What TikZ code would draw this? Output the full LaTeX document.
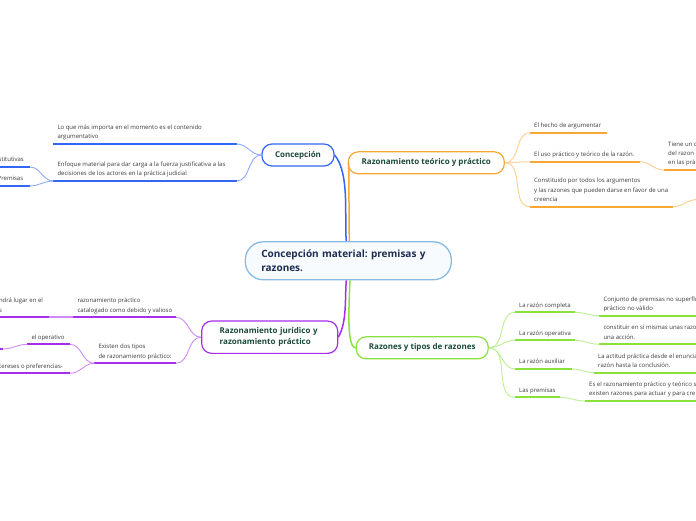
\documentclass[tikz,border=0pt]{standalone}
\usepackage{fontspec}
\setmainfont{Open Sans}
\usetikzlibrary{positioning}
\frenchspacing

\definecolor{mblue}{HTML}{3466F5}
\definecolor{morange}{HTML}{F8A832}
\definecolor{mpurple}{HTML}{A62EEB}
\definecolor{mgreen}{HTML}{89E23C}
\definecolor{rootline}{HTML}{88BBE2}
\definecolor{rootfill}{HTML}{F8FBFE}
\definecolor{rootink}{HTML}{1C2B4F}
\definecolor{topicink}{HTML}{1A4A3A}
\definecolor{leafink}{HTML}{3C3C3C}

\begin{document}
\begin{tikzpicture}[x=1pt, y=-1pt,
    every node/.style={font=\fontsize{6}{9.3}\selectfont, text=leafink},
    root/.style={draw=rootline, fill=rootfill, line width=1.3pt, rounded corners=18pt,
        minimum width=206pt, minimum height=38pt, text width=174pt, inner xsep=16pt,
        align=left, text=rootink, font=\fontsize{10}{13.7}\selectfont\bfseries},
    topic/.style={draw=#1, fill=white, line width=1.2pt, rounded corners=10pt,
        minimum height=22pt, inner xsep=0pt, align=center, text=topicink,
        font=\fontsize{8}{11}\selectfont\bfseries},
    leaf/.style={fill=#1, minimum height=2.2pt, inner sep=0pt, outer sep=0pt, anchor=west},
    txt/.style={anchor=south west, align=left, inner xsep=4pt, inner ysep=2.4pt, text depth=1.5pt},
    main/.style={draw=#1, line width=1.5pt},
    link/.style={draw=#1!55, line width=0.9pt},
]
    \useasboundingbox (0,0) rectangle (696,520);
    \clip (0,0) rectangle (696,520);
    \fill[white] (0,0) rectangle (696,520);

    % central idea
    \node[root] (root) at (348.3,260.8) {Concepción material: premisas y\\razones.};

    % main topics
    \node[topic=mblue, minimum width=72pt] (conc) at (298,155) {Concepción};
    \node[topic=morange, minimum width=156pt] (teo) at (426.3,162.8) {Razonamiento teórico y práctico};
    \node[topic=mpurple, minimum height=32.3pt, text width=100pt, inner xsep=18pt, align=left] (jur) at (269.7,337.2) {Razonamiento jurídico y\\razonamiento práctico};
    \node[topic=mgreen, minimum width=132pt] (raz) at (422.2,347.8) {Razones y tipos de razones};

    % Concepcion leaves
    \node[leaf=mblue, minimum width=183.4pt, label={[txt]north west:{Lo que más importa en el momento es el contenido\\argumentativo}}] (c1) at (53.3,144) {};
    \node[leaf=mblue, minimum width=183.4pt, label={[txt]north west:{Enfoque material para dar carga a la fuerza justificativa a las\\decisiones de los actores en la práctica judicial}}] (c2) at (53.3,181) {};
    \node[leaf=mblue, minimum width=35.5pt, label={[txt]north west:{stitutivas}}] (c2a) at (-5.5,167) {};
    \node[leaf=mblue, minimum width=36pt, label={[txt]north west:{Premisas}}] (c2b) at (-6.5,186) {};

    % teorico leaves
    \node[leaf=morange, minimum width=76.7pt, label={[txt]north west:{El hecho de argumentar}}] (t1) at (530,132.7) {};
    \node[leaf=morange, minimum width=110pt, label={[txt]north west:{El uso práctico y teórico de la razón.}}] (t2) at (530,161.7) {};
    \node[leaf=morange, minimum width=80pt, label={[txt]north west:{Tiene un c\\del razon\\en las prá}}] (t2a) at (664,170) {};
    \node[leaf=morange, minimum width=143.3pt, label={[txt]north west:{Constituido por todos los argumentos\\y las razones que pueden darse en favor de una\\creencia}}] (t3) at (530,206.7) {};
    \node[leaf=morange, minimum width=40pt] (t3a) at (697,199.5) {};

    % juridico leaves
    \node[leaf=mpurple, minimum width=102.7pt, label={[txt]north west:{razonamiento práctico\\catalogado como debido y valioso}}] (j1) at (73.3,317.3) {};
    \node[leaf=mpurple, minimum width=54.5pt, label={[txt]north west:{ndrá lugar en el\\s}}] (j1a) at (-5.2,317.3) {};
    \node[leaf=mpurple, minimum width=81.7pt, label={[txt]north west:{Existen dos tipos\\de razonamiento práctico:}}] (j2) at (94.3,363.3) {};
    \node[leaf=mpurple, minimum width=42.7pt, label={[txt]north west:{el operativo}}] (j2a) at (27.3,344.3) {};
    \node[leaf=mpurple, minimum width=63pt] (j2c) at (-60,349) {};
    \node[leaf=mpurple, minimum width=75pt, label={[txt]north west:{tereses o preferencias-}}] (j2b) at (-5,373.3) {};

    % razones leaves
    \node[leaf=mgreen, minimum width=60pt, label={[txt]north west:{La razón completa}}] (r1) at (515,312.3) {};
    \node[leaf=mgreen, minimum width=120pt, label={[txt]north west:{Conjunto de premisas no superflu\\práctico no válido}}] (r1a) at (599.3,315.7) {};
    \node[leaf=mgreen, minimum width=60pt, label={[txt]north west:{La razón operativa}}] (r2) at (515,340.3) {};
    \node[leaf=mgreen, minimum width=120pt, label={[txt]north west:{constituir en sí mismas unas razo\\una acción.}}] (r2a) at (599.3,344.3) {};
    \node[leaf=mgreen, minimum width=57pt, label={[txt]north west:{La razón auxiliar}}] (r3) at (515,369) {};
    \node[leaf=mgreen, minimum width=120pt, label={[txt]north west:{La actitud práctica desde el enunciad\\razón hasta la conclusión.}}] (r3a) at (594,372.7) {};
    \node[leaf=mgreen, minimum width=45pt, label={[txt]north west:{Las premisas}}] (r4) at (515,397.3) {};
    \node[leaf=mgreen, minimum width=120pt, label={[txt]north west:{Es el razonamiento práctico y teórico s\\existen razones para actuar y para cre}}] (r4a) at (585,401) {};

    % branches from the centre
    \draw[main=mblue] (conc.east) to[out=-50,in=95,looseness=0.7] ([xshift=-2pt]root.north);
    \draw[main=morange] ([xshift=1pt]root.north) -- ([xshift=1pt]teo.west);
    \draw[main=mpurple] ([xshift=-2pt]root.south) to[out=-95,in=60,looseness=0.8] (jur.east);
    \draw[main=mgreen] ([xshift=1.5pt]root.south) to[out=-88,in=180,looseness=0.4] (raz.west);

    % links to leaves
    \draw[link=mblue] (conc.west) to[out=180,in=0] (c1.east);
    \draw[link=mblue] (conc.west) to[out=180,in=0] (c2.east);
    \draw[link=mblue] (c2.west) to[out=180,in=0] (c2a.east);
    \draw[link=mblue] (c2.west) to[out=180,in=0] (c2b.east);

    \draw[link=morange] (teo.east) to[out=0,in=180] (t1.west);
    \draw[link=morange] (teo.east) to[out=0,in=180] (t2.west);
    \draw[link=morange] (teo.east) to[out=0,in=180] (t3.west);
    \draw[link=morange] (t2.east) to[out=0,in=180] (t2a.west);
    \draw[link=morange] (t3.east) to[out=0,in=180] (t3a.west);

    \draw[link=mpurple] (jur.west) to[out=180,in=0] (j1.east);
    \draw[link=mpurple] (jur.west) to[out=180,in=0] (j2.east);
    \draw[link=mpurple, line width=2.2pt] (j1.west) -- (j1a.east);
    \draw[link=mpurple] (j2.west) to[out=180,in=0] (j2a.east);
    \draw[link=mpurple] (j2.west) to[out=180,in=0] (j2b.east);
    \draw[link=mpurple] (j2a.west) to[out=180,in=0] (j2c.east);

    \draw[link=mgreen] (raz.east) to[out=0,in=180] (r1.west);
    \draw[link=mgreen] (raz.east) to[out=0,in=180] (r2.west);
    \draw[link=mgreen] (raz.east) to[out=0,in=180] (r3.west);
    \draw[link=mgreen] (raz.east) to[out=0,in=180] (r4.west);
    \draw[link=mgreen] (r1.east) to[out=0,in=180] (r1a.west);
    \draw[link=mgreen] (r2.east) to[out=0,in=180] (r2a.west);
    \draw[link=mgreen] (r3.east) to[out=0,in=180] (r3a.west);
    \draw[link=mgreen] (r4.east) to[out=0,in=180] (r4a.west);
\end{tikzpicture}
\end{document}
